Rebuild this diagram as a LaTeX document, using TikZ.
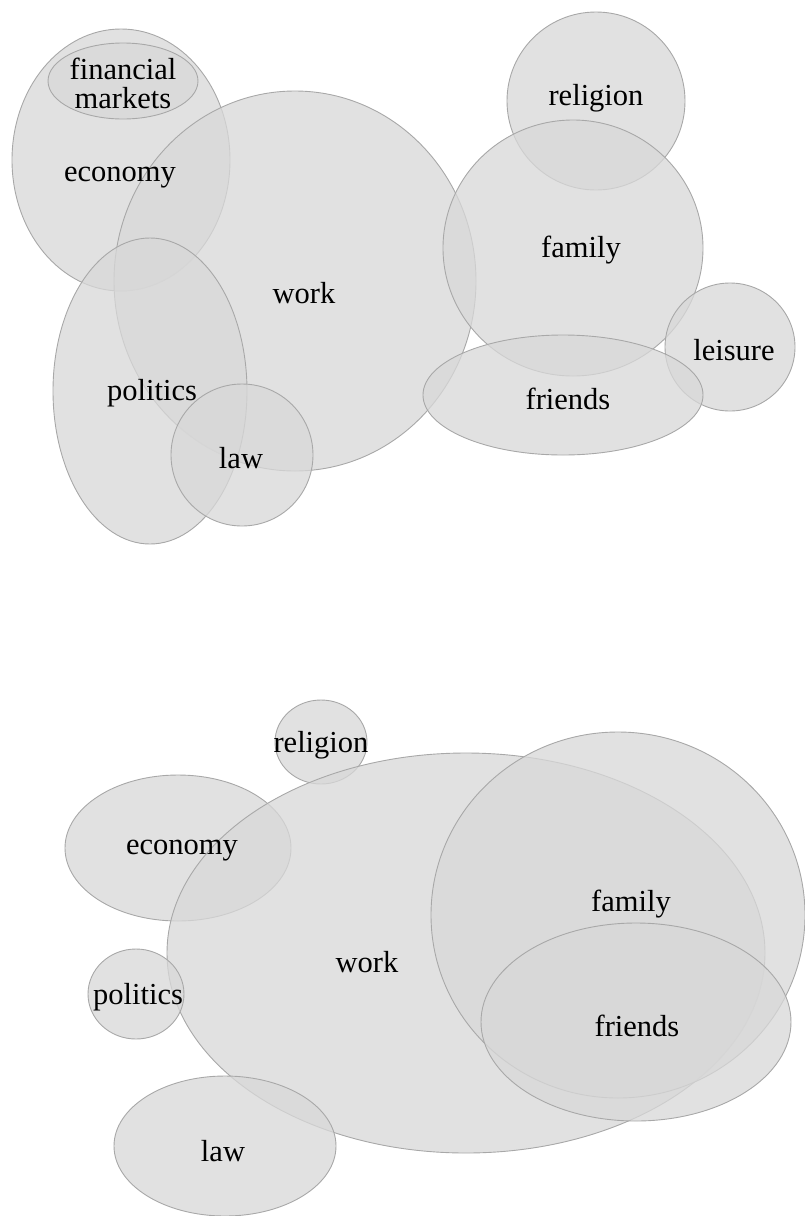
\documentclass[tikz,border=0pt]{standalone}
\usepackage{fontspec}
\setmainfont{Liberation Serif}
\definecolor{vfill}{gray}{0.847}
\definecolor{vline}{gray}{0.66}
\begin{document}
\begin{tikzpicture}[x=1pt,y=-1pt,
  venn/.style={fill=vfill,fill opacity=0.77,draw=vline,line width=0.9pt},
  lbl/.style={font=\fontsize{30.5}{32}\selectfont,text=black,inner sep=0pt,align=center}]
\useasboundingbox (0,0) rectangle (805,1216);
% top diagram
\draw[venn] (121,160) ellipse (109 and 131);
\draw[venn] (123,81) ellipse (75 and 38);
\draw[venn] (295,281) ellipse (181 and 190);
\draw[venn] (150,391) ellipse (97 and 153);
\draw[venn] (242,455) ellipse (71 and 71);
\draw[venn] (596,101) ellipse (89 and 89);
\draw[venn] (573,248) ellipse (130 and 128);
\draw[venn] (730,347) ellipse (65 and 64);
\draw[venn] (563,395) ellipse (140 and 60);
\node[lbl] (t-fin) at (123,83) {financial\\[-3pt]markets};
\node[lbl] (t-eco) at (120,178) {economy};
\node[lbl] (t-work) at (304,293) {work};
\node[lbl] (t-pol) at (152,393) {politics};
\node[lbl] (t-law) at (241,458) {law};
\node[lbl] (t-rel) at (596,98) {religion};
\node[lbl] (t-fam) at (581,250) {family};
\node[lbl] (t-lei) at (734,350) {leisure};
\node[lbl] (t-fri) at (568,399) {friends};
% bottom diagram
\draw[venn] (321,742) ellipse (46 and 42);
\draw[venn] (178,848) ellipse (113 and 73);
\draw[venn] (466,953) ellipse (299 and 200);
\draw[venn] (618,915) ellipse (187 and 183);
\draw[venn] (636,1022) ellipse (155 and 99);
\draw[venn] (136,994) ellipse (48 and 45);
\draw[venn] (225,1146) ellipse (111 and 70);
\node[lbl] (b-rel) at (321,745) {religion};
\node[lbl] (b-eco) at (182,851) {economy};
\node[lbl] (b-work) at (367,962) {work};
\node[lbl] (b-fam) at (631,904) {family};
\node[lbl] (b-fri) at (637,1026) {friends};
\node[lbl] (b-pol) at (138,997) {politics};
\node[lbl] (b-law) at (223,1151) {law};
\end{tikzpicture}
\end{document}
